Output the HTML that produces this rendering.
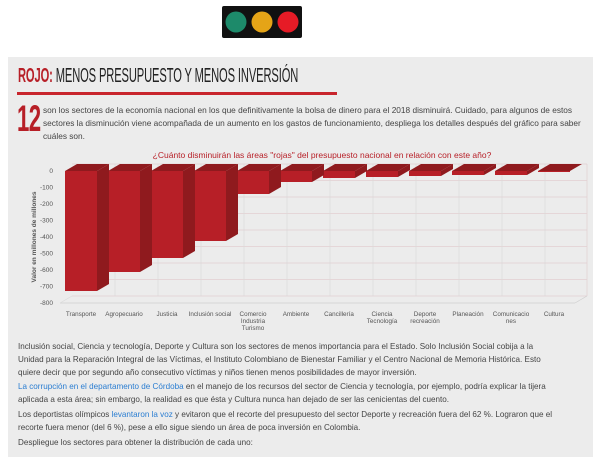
<!DOCTYPE html>
<html><head><meta charset="utf-8"><style>
body{margin:0;width:604px;height:453px;background:#fff;overflow:hidden;font-family:"Liberation Sans",sans-serif;position:relative}
.panel{position:absolute;left:8px;top:57px;width:585px;height:400px;background:#ececec}
.t{position:absolute;left:18px;top:65px;white-space:nowrap;font-size:20px;color:#222;letter-spacing:-0.2px;transform:scaleX(0.557);transform-origin:left}
.t b{color:#b71f27;font-weight:bold}
.rule{position:absolute;left:17px;top:92px;width:320px;height:3px;background:#c8252d}
.big{position:absolute;left:17px;top:102px;font-weight:bold;color:#b71f27;font-size:37px;letter-spacing:-1px;line-height:34px;transform:scaleX(0.6);transform-origin:left}
.intro{position:absolute;left:43px;top:104px;width:545px;font-size:8.3px;line-height:13px;color:#444}
.p{position:absolute;left:18px;white-space:nowrap;font-size:8.1px;line-height:13px;color:#444}
.p a{color:#2a7dd1}
</style></head><body>
<svg style="position:absolute;left:219px;top:3px" width="86" height="38">
<rect x="3" y="3" width="80" height="32" rx="2" fill="#111"/>
<circle cx="17" cy="19" r="10.5" fill="#1d8a6a"/><circle cx="43" cy="19" r="10.5" fill="#e5a417"/><circle cx="69" cy="19" r="10.5" fill="#e61b26"/>
</svg>
<div class="panel"></div>
<div class="t"><b>ROJO:</b> MENOS PRESUPUESTO Y MENOS INVERSIÓN</div>
<div class="rule"></div>
<div class="big">12</div>
<div class="intro">son los sectores de la economía nacional en los que definitivamente la bolsa de dinero para el 2018 disminuirá. Cuidado, para algunos de estos sectores la disminución viene acompañada de un aumento en los gastos de funcionamiento, despliega los detalles después del gráfico para saber cuáles son.</div>
<svg style="position:absolute;left:0;top:0" width="604" height="340" font-family="Liberation Sans, sans-serif">
<text x="322" y="158" font-size="8.5" fill="#b71f27" text-anchor="middle">¿Cuánto disminuirán las áreas "rojas" del presupuesto nacional en relación con este año?</text>
<g stroke="#e3cfd2" stroke-width="0.7" fill="none">
<line x1="72" y1="164" x2="587" y2="164"/><line x1="72" y1="180.5" x2="587" y2="180.5"/><line x1="72" y1="197" x2="587" y2="197"/><line x1="72" y1="213.5" x2="587" y2="213.5"/><line x1="72" y1="230" x2="587" y2="230"/><line x1="72" y1="246.5" x2="587" y2="246.5"/><line x1="72" y1="263" x2="587" y2="263"/><line x1="72" y1="279.5" x2="587" y2="279.5"/><line x1="72" y1="296" x2="587" y2="296"/>
<line x1="587" y1="164" x2="587" y2="296"/>
</g>
<g stroke="#dadada" stroke-width="0.7">
<line x1="115" y1="164" x2="115" y2="296"/><line x1="158" y1="164" x2="158" y2="296"/><line x1="201" y1="164" x2="201" y2="296"/><line x1="244" y1="164" x2="244" y2="296"/><line x1="287" y1="164" x2="287" y2="296"/><line x1="330" y1="164" x2="330" y2="296"/><line x1="373" y1="164" x2="373" y2="296"/><line x1="416" y1="164" x2="416" y2="296"/><line x1="459" y1="164" x2="459" y2="296"/><line x1="502" y1="164" x2="502" y2="296"/><line x1="545" y1="164" x2="545" y2="296"/>
<line x1="60" y1="303" x2="575" y2="303" stroke="#cfcfcf"/><line x1="575" y1="303" x2="587" y2="296" stroke="#cfcfcf"/><line x1="60" y1="303" x2="72" y2="296"/>
</g>
<g font-size="6.5" fill="#555" text-anchor="end">
<text x="53" y="173">0</text><text x="53" y="189.5">-100</text><text x="53" y="206">-200</text><text x="53" y="222.5">-300</text><text x="53" y="239">-400</text><text x="53" y="255.5">-500</text><text x="53" y="272">-600</text><text x="53" y="288.5">-700</text><text x="53" y="305">-800</text>
</g>
<text transform="translate(36,237) rotate(-90)" font-size="6.5" font-weight="bold" fill="#555" text-anchor="middle">Valor en millones de millones</text>
<g fill="#b71f27">
<rect x="65" y="171" width="32" height="120"/><rect x="108" y="171" width="32" height="101"/><rect x="151" y="171" width="32" height="87"/><rect x="194" y="171" width="32" height="70"/><rect x="237" y="171" width="32" height="23"/><rect x="280" y="171" width="32" height="11"/><rect x="323" y="171" width="32" height="7"/><rect x="366" y="171" width="32" height="6"/><rect x="409" y="171" width="32" height="5"/><rect x="452" y="171" width="32" height="4"/><rect x="495" y="171" width="32" height="4"/><rect x="538" y="171" width="32" height="1"/>
</g>
<g fill="#8f1a1e">
<polygon points="65,171 77,164 109,164 97,171"/><polygon points="97,171 109,164 109,284 97,291"/>
<polygon points="108,171 120,164 152,164 140,171"/><polygon points="140,171 152,164 152,265 140,272"/>
<polygon points="151,171 163,164 195,164 183,171"/><polygon points="183,171 195,164 195,251 183,258"/>
<polygon points="194,171 206,164 238,164 226,171"/><polygon points="226,171 238,164 238,234 226,241"/>
<polygon points="237,171 249,164 281,164 269,171"/><polygon points="269,171 281,164 281,187 269,194"/>
<polygon points="280,171 292,164 324,164 312,171"/><polygon points="312,171 324,164 324,175 312,182"/>
<polygon points="323,171 335,164 367,164 355,171"/><polygon points="355,171 367,164 367,171 355,178"/>
<polygon points="366,171 378,164 410,164 398,171"/><polygon points="398,171 410,164 410,170 398,177"/>
<polygon points="409,171 421,164 453,164 441,171"/><polygon points="441,171 453,164 453,169 441,176"/>
<polygon points="452,171 464,164 496,164 484,171"/><polygon points="484,171 496,164 496,168 484,175"/>
<polygon points="495,171 507,164 539,164 527,171"/><polygon points="527,171 539,164 539,168 527,175"/>
<polygon points="538,171 550,164 582,164 570,171"/>
</g>
<g font-size="6.3" fill="#555" text-anchor="middle">
<text x="81" y="316">Transporte</text><text x="124" y="316">Agropecuario</text><text x="167" y="316">Justicia</text><text x="210" y="316">Inclusión social</text>
<text x="253" y="316">Comercio</text><text x="253" y="323">Industria</text><text x="253" y="330">Turismo</text>
<text x="296" y="316">Ambiente</text><text x="339" y="316">Cancillería</text>
<text x="382" y="316">Ciencia</text><text x="382" y="323">Tecnología</text>
<text x="425" y="316">Deporte</text><text x="425" y="323">recreación</text>
<text x="468" y="316">Planeación</text>
<text x="511" y="316">Comunicacio</text><text x="511" y="323">nes</text>
<text x="554" y="316">Cultura</text>
</g>
</svg>
<div class="p" style="top:340px">Inclusión social, Ciencia y tecnología, Deporte y Cultura son los sectores de menos importancia para el Estado. Solo Inclusión Social cobija a la<br>Unidad para la Reparación Integral de las Víctimas, el Instituto Colombiano de Bienestar Familiar y el Centro Nacional de Memoria Histórica. Esto<br>quiere decir que por segundo año consecutivo víctimas y niños tienen menos posibilidades de mayor inversión.</div>
<div class="p" style="top:380px"><a>La corrupción en el departamento de Córdoba</a> en el manejo de los recursos del sector de Ciencia y tecnología, por ejemplo, podría explicar la tijera<br>aplicada a esta área; sin embargo, la realidad es que ésta y Cultura nunca han dejado de ser las cenicientas del cuento.</div>
<div class="p" style="top:408px">Los deportistas olímpicos <a>levantaron la voz</a> y evitaron que el recorte del presupuesto del sector Deporte y recreación fuera del 62 %. Lograron que el<br>recorte fuera menor (del 6 %), pese a ello sigue siendo un área de poca inversión en Colombia.</div>
<div class="p" style="top:436px">Despliegue los sectores para obtener la distribución de cada uno:</div>
</body></html>
